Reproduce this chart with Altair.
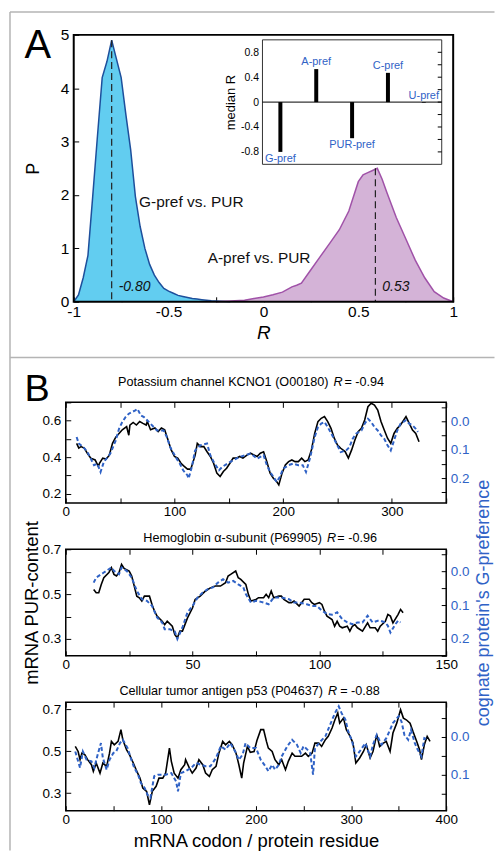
import altair as alt
import pandas as pd

FONT = "Liberation Sans"
BLUE = "#2f62c6"
CYAN_FILL = "#62cdf0"
CYAN_LINE = "#1d4f9c"
PURPLE_FILL = "#d4b3d7"
PURPLE_LINE = "#a052a8"
FRAME_GRAY = "#b4b4b4"

# ---------------- Panel A data ----------------
gpref_r = [-1.0, -0.975, -0.95, -0.925, -0.9, -0.875, -0.85, -0.825, -0.8, -0.775, -0.75, -0.725,
           -0.7, -0.675, -0.65, -0.625, -0.6, -0.575, -0.55, -0.525, -0.5, -0.475, -0.45, -0.425,
           -0.4, -0.375, -0.35, -0.325, -0.3, -0.275, -0.25, -0.225, -0.2, -0.175]
gpref_p = [0.0, 0.13, 0.45, 0.87, 1.97, 3.1, 4.2, 4.5, 4.9, 4.55, 4.2, 3.5,
           2.85, 1.97, 1.41, 1.0, 0.7, 0.5, 0.36, 0.25, 0.2, 0.16, 0.12, 0.1,
           0.08, 0.06, 0.05, 0.04, 0.03, 0.02, 0.015, 0.01, 0.005, 0.0]
apref_r = [-0.25, -0.2, -0.15, -0.1, -0.05, 0.0, 0.05, 0.1, 0.15, 0.175, 0.2, 0.25, 0.3, 0.35,
           0.4, 0.45, 0.5, 0.525, 0.55, 0.575, 0.6, 0.625, 0.65, 0.7, 0.75, 0.8, 0.85, 0.9, 0.95, 1.0]
apref_p = [0.0, 0.01, 0.02, 0.03, 0.06, 0.09, 0.13, 0.18, 0.28, 0.31, 0.35, 0.6, 0.85, 1.1,
           1.35, 1.7, 2.25, 2.38, 2.42, 2.46, 2.5, 2.3, 2.05, 1.58, 1.18, 0.78, 0.45, 0.19, 0.07, 0.0]
peak_r = [-0.80, 0.59]
peak_p = [4.9, 2.5]
peak_label = ["-0.80", "0.53"]

inset_cats = ["G-pref", "A-pref", "PUR-pref", "C-pref", "U-pref"]
inset_median_r = [-0.80, 0.53, -0.58, 0.47, -0.01]
inset_ticks = [-0.8, -0.6, -0.4, -0.2, 0.0, 0.2, 0.4, 0.6, 0.8]

# ---------------- Panel B data ----------------
kcn_pur = [(10, 0.476), (12, 0.45), (14, 0.458), (17, 0.45), (20, 0.42), (23, 0.395), (27, 0.385),
           (30, 0.35), (31, 0.367), (34, 0.395), (37, 0.39), (40, 0.41), (43, 0.476), (46, 0.51),
           (49, 0.53), (52, 0.55), (56, 0.567), (58, 0.52), (59, 0.576), (62, 0.59), (65, 0.576),
           (68, 0.595), (71, 0.585), (74, 0.576), (75, 0.595), (78, 0.55), (82, 0.56), (85, 0.54),
           (88, 0.56), (91, 0.55), (94, 0.495), (97, 0.44), (100, 0.404), (103, 0.395), (106, 0.367),
           (109, 0.35), (112, 0.335), (115, 0.335), (119, 0.41), (121, 0.476), (124, 0.458),
           (127, 0.458), (130, 0.43), (133, 0.404), (136, 0.367), (139, 0.313), (142, 0.295),
           (145, 0.322), (148, 0.34), (151, 0.367), (154, 0.395), (157, 0.395), (160, 0.404),
           (163, 0.395), (167, 0.413), (170, 0.422), (173, 0.413), (176, 0.404), (179, 0.422),
           (182, 0.43), (185, 0.376), (188, 0.313), (191, 0.285), (194, 0.267), (196, 0.249),
           (199, 0.313), (202, 0.358), (205, 0.376), (208, 0.385), (211, 0.376), (214, 0.376),
           (217, 0.395), (220, 0.376), (223, 0.385), (226, 0.44), (229, 0.53), (232, 0.595),
           (235, 0.613), (238, 0.622), (241, 0.595), (244, 0.558), (247, 0.504), (250, 0.467),
           (253, 0.449), (257, 0.431), (260, 0.395), (263, 0.44), (266, 0.494), (269, 0.54),
           (272, 0.558), (275, 0.604), (278, 0.676), (281, 0.695), (284, 0.685), (287, 0.658),
           (290, 0.595), (293, 0.549), (296, 0.504), (299, 0.476), (302, 0.53), (305, 0.558),
           (308, 0.576), (311, 0.604), (313, 0.622), (316, 0.585), (319, 0.549), (322, 0.53),
           (325, 0.485)]
kcn_gpref = [(10, 0.055), (12, 0.078), (16, 0.09), (20, 0.108), (26, 0.154), (29, 0.149), (32, 0.178),
             (35, 0.143), (41, 0.113), (46, 0.067), (49, 0.026), (52, 0.002), (55, -0.015), (58, -0.027),
             (61, -0.033), (64, -0.039), (66, -0.044), (69, -0.021), (72, -0.015), (78, 0.008),
             (84, 0.032), (90, 0.032), (93, 0.055), (96, 0.09), (102, 0.131), (105, 0.149),
             (108, 0.172), (112, 0.19), (113, 0.201), (116, 0.16), (119, 0.102), (124, 0.084),
             (130, 0.078), (133, 0.119), (137, 0.149), (141, 0.172), (144, 0.16), (151, 0.143),
             (160, 0.125), (170, 0.113), (176, 0.131), (182, 0.119), (185, 0.154), (188, 0.178),
             (191, 0.195), (194, 0.213), (197, 0.195), (200, 0.166), (205, 0.154), (209, 0.149),
             (214, 0.154), (218, 0.154), (221, 0.178), (225, 0.125), (229, 0.055), (232, 0.02),
             (235, 0.008), (238, 0.002), (241, 0.02), (246, 0.055), (249, 0.078), (253, 0.108),
             (258, 0.102), (261, 0.09), (264, 0.061), (267, 0.043), (272, 0.032), (275, 0.008),
             (278, -0.009), (281, 0.002), (284, 0.02), (287, 0.032), (290, 0.049), (293, 0.061),
             (296, 0.084), (299, 0.102), (302, 0.067), (305, 0.032), (308, 0.008), (313, -0.004),
             (316, 0.008), (319, 0.014), (322, 0.026), (324, 0.037)]

hba_pur = [(11, 0.521), (12, 0.506), (13, 0.506), (14, 0.543), (15, 0.573), (17, 0.596), (18, 0.618),
           (19, 0.588), (20, 0.581), (21, 0.596), (22, 0.633), (23, 0.615), (25, 0.603), (26, 0.581),
           (27, 0.536), (28, 0.491), (29, 0.484), (30, 0.469), (31, 0.491), (33, 0.491), (34, 0.454),
           (35, 0.424), (36, 0.402), (38, 0.379), (39, 0.364), (40, 0.379), (42, 0.357), (43, 0.32),
           (44, 0.305), (45, 0.335), (46, 0.335), (48, 0.394), (50, 0.439), (51, 0.476), (53, 0.491),
           (55, 0.513), (57, 0.528), (59, 0.536), (61, 0.536), (63, 0.551), (64, 0.581), (65, 0.588),
           (67, 0.603), (68, 0.573), (69, 0.566), (71, 0.543), (72, 0.499), (73, 0.469), (75, 0.476),
           (76, 0.484), (78, 0.484), (79, 0.499), (80, 0.484), (81, 0.514), (82, 0.484), (84, 0.491),
           (85, 0.491), (86, 0.477), (88, 0.462), (89, 0.462), (90, 0.469), (92, 0.447), (93, 0.462),
           (94, 0.477), (96, 0.477), (97, 0.462), (98, 0.454), (100, 0.462), (101, 0.454),
           (102, 0.424), (103, 0.402), (105, 0.387), (106, 0.357), (107, 0.379), (108, 0.357),
           (109, 0.35), (111, 0.357), (112, 0.335), (113, 0.357), (114, 0.364), (115, 0.35),
           (117, 0.335), (119, 0.372), (120, 0.35), (122, 0.35), (123, 0.335), (124, 0.357),
           (126, 0.379), (127, 0.409), (128, 0.402), (129, 0.372), (131, 0.409), (132, 0.432),
           (133, 0.417)]
hba_gpref = [(11, 0.033), (12, 0.018), (13, 0.013), (15, 0.003), (16, -0.002), (18, -0.012),
             (19, -0.002), (21, 0.008), (22, -0.012), (24, -0.002), (26, 0.018), (28, 0.057),
             (30, 0.082), (32, 0.087), (34, 0.102), (36, 0.136), (38, 0.151), (39, 0.171), (41, 0.171),
             (43, 0.178), (44, 0.2), (46, 0.166), (48, 0.121), (50, 0.102), (52, 0.077), (54, 0.062),
             (56, 0.052), (58, 0.047), (60, 0.033), (62, 0.023), (64, 0.033), (66, 0.028), (68, 0.038),
             (70, 0.047), (71, 0.067), (73, 0.092), (75, 0.087), (77, 0.09), (78, 0.092), (80, 0.097),
             (82, 0.077), (85, 0.077), (88, 0.082), (90, 0.092), (92, 0.092), (95, 0.097), (97, 0.102),
             (99, 0.102), (101, 0.116), (103, 0.126), (105, 0.128), (107, 0.121), (109, 0.141),
             (111, 0.151), (113, 0.156), (115, 0.151), (117, 0.151), (119, 0.131), (121, 0.151),
             (123, 0.146), (124, 0.146), (126, 0.151), (127, 0.161), (128, 0.181), (130, 0.156),
             (131, 0.146), (132, 0.151)]

p53_pur = [(10, 0.522), (13, 0.498), (15, 0.459), (17, 0.49), (20, 0.483), (23, 0.459), (27, 0.435),
           (29, 0.403), (32, 0.443), (36, 0.395), (39, 0.443), (43, 0.427), (46, 0.49), (48, 0.546),
           (51, 0.53), (55, 0.546), (58, 0.602), (60, 0.554), (64, 0.506), (67, 0.483), (71, 0.443),
           (74, 0.411), (78, 0.371), (81, 0.324), (85, 0.308), (88, 0.244), (91, 0.308), (95, 0.332),
           (98, 0.371), (102, 0.371), (105, 0.395), (109, 0.514), (111, 0.451), (114, 0.395),
           (118, 0.371), (121, 0.411), (125, 0.435), (126, 0.459), (130, 0.419), (133, 0.395),
           (137, 0.419), (140, 0.459), (144, 0.435), (147, 0.395), (151, 0.379), (154, 0.411),
           (158, 0.427), (161, 0.49), (165, 0.546), (168, 0.53), (172, 0.546), (175, 0.53),
           (179, 0.49), (182, 0.435), (185, 0.371), (187, 0.443), (191, 0.522), (194, 0.494),
           (198, 0.498), (201, 0.55), (205, 0.602), (208, 0.602), (211, 0.546), (213, 0.514),
           (217, 0.498), (220, 0.459), (224, 0.435), (227, 0.459), (231, 0.411), (234, 0.451),
           (238, 0.49), (241, 0.475), (245, 0.475), (248, 0.475), (252, 0.49), (255, 0.475),
           (259, 0.49), (262, 0.538), (266, 0.538), (269, 0.522), (273, 0.554), (276, 0.57),
           (280, 0.61), (283, 0.649), (286, 0.681), (288, 0.633), (292, 0.657), (295, 0.602),
           (299, 0.57), (302, 0.538), (305, 0.443), (309, 0.467), (313, 0.498), (316, 0.53),
           (320, 0.467), (323, 0.498), (327, 0.578), (330, 0.522), (334, 0.538), (337, 0.546),
           (341, 0.498), (344, 0.586), (348, 0.633), (352, 0.697), (355, 0.657), (358, 0.649),
           (362, 0.633), (365, 0.594), (369, 0.546), (372, 0.506), (374, 0.459), (377, 0.53),
           (380, 0.57), (383, 0.546)]
p53_gpref = [(10, 0.039), (15, 0.082), (18, 0.039), (22, 0.061), (27, 0.065), (30, 0.082), (34, 0.043),
             (37, 0.017), (39, 0.056), (43, 0.087), (46, 0.061), (50, 0.043), (53, 0.039), (57, 0.017),
             (60, 0.008), (65, 0.03), (69, 0.061), (72, 0.082), (76, 0.1), (79, 0.122), (83, 0.135),
             (86, 0.153), (89, 0.161), (93, 0.104), (97, 0.1), (100, 0.1), (105, 0.1), (111, 0.096),
             (116, 0.118), (118, 0.144), (121, 0.096), (126, 0.091), (132, 0.082), (137, 0.069),
             (142, 0.074), (147, 0.078), (152, 0.078), (158, 0.056), (163, 0.025), (168, 0.034),
             (173, 0.017), (179, 0.043), (182, 0.061), (186, 0.047), (189, 0.017), (194, 0.03),
             (200, 0.03), (205, 0.061), (210, 0.078), (213, 0.091), (217, 0.074), (220, 0.087),
             (224, 0.074), (227, 0.052), (233, 0.025), (238, 0.008), (243, 0.021), (247, 0.043),
             (250, 0.025), (254, 0.034), (257, 0.043), (260, 0.1), (262, 0.03), (268, 0.012),
             (273, -0.001), (278, -0.032), (283, -0.062), (287, -0.08), (290, -0.062), (294, -0.045),
             (297, -0.014), (301, 0.012), (305, 0.052), (309, 0.039), (315, 0.017), (320, 0.052),
             (323, 0.021), (327, -0.005), (332, 0.021), (337, 0.004), (341, -0.018), (344, -0.036),
             (350, -0.054), (353, -0.04), (356, -0.005), (360, 0.008), (363, -0.018), (367, 0.017),
             (370, 0.034), (374, 0.052), (377, 0.004), (381, 0.008)]

one = pd.DataFrame({"k": [0]})
MINUS = "\u2212"


def text_at(text, x, y, size, **kw):
    return alt.Chart(one).mark_text(text=text, font=FONT, fontSize=size, **kw).encode(
        x=alt.value(x), y=alt.value(y))


def hline(x1, x2, y, color, width):
    return alt.Chart(one).mark_rule(color=color, strokeWidth=width).encode(
        x=alt.value(x1), x2=alt.value(x2), y=alt.value(y))


def vline(x, y1, y2, color, width):
    return alt.Chart(one).mark_rule(color=color, strokeWidth=width).encode(
        x=alt.value(x), y=alt.value(y1), y2=alt.value(y2))


# ---------------- Panel A ----------------
# panel A shares its left edge with panel B; its plot box starts SHIFT px further right
SHIFT = 8
A_PLOT_W, A_H = 381, 268
A_W = SHIFT + A_PLOT_W


def ax_x(field):
    return alt.X(field, type="quantitative",
                 scale=alt.Scale(domain=[-1, 1], range=[SHIFT, A_W], nice=False, zero=False),
                 axis=alt.Axis(values=[-1, -0.75, -0.5, -0.25, 0, 0.25, 0.5, 0.75, 1],
                               offset=-5, tickSize=5, domain=False, grid=False,
                               labelExpr=f"round(datum.value*4) % 2 == 0 ? replace(format(datum.value, '~g'), '{MINUS}', '-') : ''",
                               labelFlush=False, labelOverlap=False, labelFontSize=15.5,
                               labelPadding=3, title="R", titleFontSize=19,
                               titleFontStyle="italic", titlePadding=3))


def ax_y(field):
    return alt.Y(field, type="quantitative",
                 scale=alt.Scale(domain=[0, 5], nice=False, zero=False),
                 axis=alt.Axis(values=[0, 1, 2, 3, 4, 5], offset=-(SHIFT + 5), tickSize=5, domain=False,
                               grid=False, labelFontSize=15.5, labelPadding=5, labelFlush=False,
                               labelOverlap=False, title="P", titleFontSize=18, titlePadding=18))


df_g = pd.DataFrame({"r": gpref_r, "p": gpref_p})
df_a = pd.DataFrame({"r": apref_r, "p": apref_p})
df_peak = pd.DataFrame({"r": peak_r, "p": peak_p, "label": peak_label})

area_g = alt.Chart(df_g).mark_area(color=CYAN_FILL, opacity=1).encode(x=ax_x("r"), y=ax_y("p"))
line_g = alt.Chart(df_g).mark_line(color=CYAN_LINE, strokeWidth=1.5).encode(x=ax_x("r"), y=ax_y("p"))
area_a = alt.Chart(df_a).mark_area(color=PURPLE_FILL, opacity=1).encode(x=ax_x("r"), y=ax_y("p"))
line_a = alt.Chart(df_a).mark_line(color=PURPLE_LINE, strokeWidth=1.5).encode(x=ax_x("r"), y=ax_y("p"))
peak_rules = alt.Chart(df_peak).mark_rule(color="#222222", strokeWidth=1.2, strokeDash=[7, 4]).encode(
    x=ax_x("r"), y=ax_y("p"), y2=alt.datum(0))
peak_text = alt.Chart(df_peak).mark_text(font=FONT, fontSize=14, fontStyle="italic", align="left",
                                         baseline="middle", dx=7, color="#111111").encode(
    x=ax_x("r"), y=alt.value(A_H - 15), text="label:N")

ann_g = alt.Chart(one).mark_text(text="G-pref vs. PUR", font=FONT, fontSize=15.5, align="left",
                                 baseline="middle", color="#111111").encode(
    x=alt.datum(-0.656), y=alt.datum(1.87))
ann_a = alt.Chart(one).mark_text(text="A-pref vs. PUR", font=FONT, fontSize=15.5, align="left",
                                 baseline="middle", color="#111111").encode(
    x=alt.datum(-0.294), y=alt.datum(0.82))

letter_a = text_at("A", -41.5, 23, 40, align="left", baseline="alphabetic", color="black")

plot_box = alt.Chart(one).mark_rect(fill="transparent", stroke="black", strokeWidth=2).encode(
    x=alt.value(SHIFT), x2=alt.value(A_W), y=alt.value(0), y2=alt.value(A_H))

frame = [
    hline(-56, 430.5, -23, FRAME_GRAY, 1.5),
    vline(-56, -23, 819, FRAME_GRAY, 1.5),
    hline(-56, 430.5, 324, FRAME_GRAY, 1.5),
]

main_a = alt.layer(area_g, area_a, line_g, line_a, peak_rules, peak_text, ann_g, ann_a, letter_a,
                   plot_box, *frame)

# inset (own scales, placed by its pixel range inside panel A)
IN_L, IN_R, IN_T, IN_B = 197.5, 377.5, 5, 130


def ins_x():
    return alt.X("cat:N", sort=inset_cats,
                 scale=alt.Scale(type="point", domain=inset_cats, range=[IN_L, IN_R], padding=0.5),
                 axis=None)


def ins_y(field):
    return alt.Y(field, type="quantitative",
                 scale=alt.Scale(domain=[-1, 1], range=[IN_B, IN_T], nice=False, zero=False),
                 axis=alt.Axis(orient="left", offset=-(IN_L + 4), tickSize=4, domain=False, grid=False,
                               values=inset_ticks, format=".1~f",
                               labelExpr=f"round(datum.value*10) % 4 == 0 ? replace(datum.label, '{MINUS}', '-') : ''",
                               labelFontSize=10.5, labelPadding=4, labelFlush=False, labelOverlap=False,
                               title="median R", titleFontSize=13, titlePadding=3))


df_in = pd.DataFrame({"cat": inset_cats, "median_r": inset_median_r})
df_ticks = pd.DataFrame({"tick": inset_ticks})
df_zero = pd.DataFrame({"zero": [0.0]})

in_box = alt.Chart(one).mark_rect(fill="white", stroke="#333333", strokeWidth=1).encode(
    x=alt.value(IN_L), x2=alt.value(IN_R), y=alt.value(IN_T), y2=alt.value(IN_B))
in_zero = alt.Chart(df_zero).mark_rule(color="black", strokeWidth=1).encode(
    y=ins_y("zero"), x=alt.value(IN_L), x2=alt.value(IN_R))
in_rticks = alt.Chart(df_ticks).mark_rule(color="black", strokeWidth=1).encode(
    y=ins_y("tick"), x=alt.value(IN_R - 4), x2=alt.value(IN_R))
in_bars = alt.Chart(df_in).mark_rule(color="black", strokeWidth=4).encode(
    x=ins_x(), y=ins_y("median_r"), y2=alt.datum(0))
in_lab_up = alt.Chart(df_in).transform_filter("datum.median_r > -0.1").mark_text(
    font=FONT, fontSize=11, color=BLUE, baseline="bottom", dy=-2).encode(
    x=ins_x(), y=ins_y("median_r"), text="cat:N")
in_lab_dn = alt.Chart(df_in).transform_filter("datum.median_r <= -0.1").mark_text(
    font=FONT, fontSize=11, color=BLUE, baseline="top", dy=1).encode(
    x=ins_x(), y=ins_y("median_r"), text="cat:N")

inset = alt.layer(in_box, in_zero, in_rticks, in_bars, in_lab_up, in_lab_dn)

panel_a = alt.layer(main_a, inset).resolve_scale(x="independent", y="independent").properties(
    width=A_W, height=A_H, view=alt.ViewBackground(stroke="transparent"))

# ---------------- Panel B ----------------
B_W = 382


def b_panel(pur_pts, g_pts, xmax, xstep, xlab, ydom, yvals, parity, gdom, gvals, h,
            title_parts, title_y, extra, x_title=None):
    dfp = pd.DataFrame(pur_pts, columns=["res", "pur"])
    dfg = pd.DataFrame(g_pts, columns=["res", "g"])
    xvals = list(range(0, xmax + 1, xstep))
    xscale = alt.Scale(domain=[0, xmax], nice=False, zero=False)
    xaxis_kw = dict(orient="bottom", values=xvals, offset=-5, tickSize=5, domain=False, grid=False,
                    labelExpr=f"datum.value % {xlab} == 0 ? datum.label : ''", labelFlush=False,
                    labelOverlap=False, labelFontSize=13.5, labelPadding=2)
    if x_title:
        xaxis_kw.update(title=x_title, titleFontSize=18.5, titlePadding=5)
    else:
        xaxis_kw.update(title=None)
    xb = alt.X("res:Q", scale=xscale, axis=alt.Axis(**xaxis_kw))
    xt = alt.X("res:Q", scale=xscale,
               axis=alt.Axis(orient="top", values=xvals, offset=-5, tickSize=5, domain=False,
                             grid=False, labels=False, title=None))
    yl = alt.Y("pur:Q", scale=alt.Scale(domain=ydom, nice=False, zero=False),
               axis=alt.Axis(orient="left", values=yvals, offset=-5, tickSize=5, domain=False,
                             grid=False, format=".1f",
                             labelExpr=f"round(datum.value*10) % 2 == {parity} ? datum.label : ''",
                             labelFontSize=13.5, labelPadding=5, labelFlush=False, labelOverlap=False,
                             title=None))
    yr = alt.Y("g:Q", scale=alt.Scale(domain=gdom, reverse=True, nice=False, zero=False),
               axis=alt.Axis(orient="right", values=gvals, offset=-5, tickSize=5, domain=False,
                             grid=False, format=".1f",
                             labelExpr="round(datum.value*100) % 10 == 0 ? datum.label : ''",
                             labelColor=BLUE, labelFontSize=13.5, labelPadding=4, labelFlush=False,
                             labelOverlap=False, title=None))
    black = alt.Chart(dfp).mark_line(color="black", strokeWidth=1.6).encode(x=xb, y=yl)
    blue = alt.Chart(dfg).mark_line(color=BLUE, strokeWidth=2, strokeDash=[4, 2.5]).encode(x=xt, y=yr)
    (t1, x1), (t2, x2), (t3, x3) = title_parts
    titles = [
        text_at(t1, x1, title_y, 12.7, align="right", baseline="alphabetic", color="black"),
        text_at(t2, x2, title_y, 12.7, align="left", baseline="alphabetic", fontStyle="italic", color="black"),
        text_at(t3, x3, title_y, 12.7, align="left", baseline="alphabetic", color="black"),
    ]
    return alt.layer(black, blue, *titles, *extra).resolve_scale(
        x="independent", y="independent").properties(
        width=B_W, height=h, view=alt.ViewBackground(stroke="black", strokeWidth=1.5))


b1 = b_panel(kcn_pur, kcn_gpref, 350, 50, 100, [0.15, 0.70], [0.2, 0.3, 0.4, 0.5, 0.6, 0.7], 0,
             [-0.067, 0.287], [-0.05, 0.0, 0.05, 0.1, 0.15, 0.2, 0.25], 101,
             [("Potassium channel KCNO1 (O00180)", 263.8), ("R", 268.8), ("=  -0.94", 279.8)], -16,
             [text_at("B", -41.5, -1, 38, align="left", baseline="alphabetic", color="black")])

b2 = b_panel(hba_pur, hba_gpref, 150, 25, 50, [0.225, 0.70], [0.3, 0.4, 0.5, 0.6, 0.7], 1,
             [-0.066, 0.25], [-0.05, 0.0, 0.05, 0.1, 0.15, 0.2, 0.25], 107,
             [("Hemoglobin \u03b1-subunit  (P69905)", 257.2), ("R", 262.2), ("=  -0.96", 272.7)], -7,
             [text_at("mRNA PUR-content", -33.5, 54, 18.5, angle=270, align="center", baseline="middle",
                      color="black"),
              text_at("cognate protein's G-preference", 419.5, 54, 18, angle=270, align="center",
                      baseline="middle", color=BLUE)])

b3 = b_panel(p53_pur, p53_gpref, 400, 50, 100, [0.216, 0.733], [0.3, 0.4, 0.5, 0.6, 0.7], 1,
             [-0.091, 0.195], [-0.05, 0.0, 0.05, 0.1, 0.15], 109,
             [("Cellular tumor antigen p53 (P04637)", 258.2), ("R", 263.2), ("=  -0.88", 275.5)], -7,
             [], x_title="mRNA codon / protein residue")

gap = alt.Chart(one).mark_point(opacity=0).encode(x=alt.value(0), y=alt.value(0)).properties(
    width=1, height=8, view=alt.ViewBackground(stroke="transparent"))

chart = alt.vconcat(panel_a, gap, b1, b2, b3, spacing=46.5, bounds="flush").configure(
    font=FONT, padding={"left": 0, "top": 0.25, "right": 0, "bottom": 0}
).configure_axis(
    labelFont=FONT, titleFont=FONT, titleFontWeight="normal", tickColor="black",
    labelColor="black", titleColor="black", tickWidth=1
).configure_view(stroke="black")

chart.save("out.html", embed_options={"renderer": "svg", "actions": False})
